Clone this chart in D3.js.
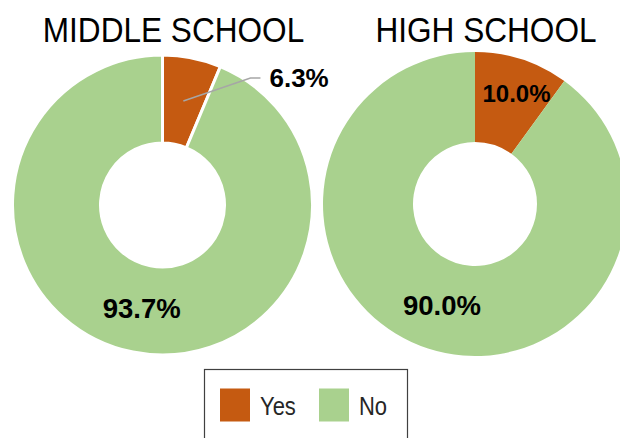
<!DOCTYPE html>
<html>
<head>
<meta charset="utf-8">
<script src="https://cdn.jsdelivr.net/npm/d3@7"></script>
<style>
  html, body { margin: 0; padding: 0; background: #fff; }
  svg { display: block; font-family: "Liberation Sans", Arial, sans-serif; }
</style>
</head>
<body>
<svg id="chart" width="620" height="438"></svg>
<script>
const categories = ["Yes", "No"];
const schools = ["MIDDLE SCHOOL", "HIGH SCHOOL"];
const middleValues = [6.3, 93.7];
const highValues = [10.0, 90.0];
const colors = ["#C55A11", "#A9D18E"];

const svg = d3.select("#chart");
const color = d3.scaleOrdinal().domain(categories).range(colors);
const pie = d3.pie().sort(null).value(d => d.value);

const charts = [
  { title: schools[0], values: middleValues, cx: 162.5, cy: 205, r: 150, ri: 62, stroke: 3,
    titleX: 173.5, titleY: 42, titleSize: 31.6,
    labels: [
      { type: "outside", size: 26 },
      { type: "inside", r: 106, size: 27.5 }
    ] },
  { title: schools[1], values: highValues, cx: 475, cy: 204, r: 152, ri: 62, stroke: 0,
    titleX: 486, titleY: 41.7, titleSize: 31.6,
    labels: [
      { type: "inside", r: 118, size: 24, angOffset: 2.6 },
      { type: "inside", r: 107, size: 27.5 }
    ] }
];

charts.forEach(c => {
  const data = categories.map((k, i) => ({ key: k, value: c.values[i] }));
  const arcs = pie(data);
  const arc = d3.arc().innerRadius(c.ri).outerRadius(c.r);
  const g = svg.append("g").attr("transform", `translate(${c.cx},${c.cy})`);

  g.selectAll("path").data(arcs).join("path")
    .attr("d", arc)
    .attr("fill", d => color(d.data.key))
    .attr("stroke", c.stroke ? "#fff" : "none")
    .attr("stroke-width", c.stroke);

  arcs.forEach((a, i) => {
    const L = c.labels[i];
    const mid = (a.startAngle + a.endAngle) / 2 + (L.angOffset || 0) * Math.PI / 180;
    const txt = d3.format(".1f")(a.data.value) + "%";
    if (L.type === "inside") {
      const x = Math.sin(mid) * L.r, y = -Math.cos(mid) * L.r;
      g.append("text")
        .attr("x", x).attr("y", y)
        .attr("text-anchor", "middle")
        .attr("dominant-baseline", "central")
        .attr("font-size", L.size)
        .attr("font-weight", "bold")
        .attr("fill", "#000")
        .text(txt);
    } else {
      const rc = (c.ri + c.r) / 2;
      const p0 = [Math.sin(mid) * rc, -Math.cos(mid) * rc];
      const ang2 = 34.7 * Math.PI / 180, r2 = 154.5;
      const p1 = [Math.sin(ang2) * r2, -Math.cos(ang2) * r2];
      const p2 = [p1[0] + 10, p1[1]];
      g.append("polyline")
        .attr("points", [p0, p1, p2].map(p => p.join(",")).join(" "))
        .attr("fill", "none")
        .attr("stroke", "#A6A6A6")
        .attr("stroke-width", 1.5);
      g.append("text")
        .attr("x", p2[0] + 9).attr("y", p2[1])
        .attr("text-anchor", "start")
        .attr("dominant-baseline", "central")
        .attr("font-size", L.size)
        .attr("font-weight", "bold")
        .attr("fill", "#000")
        .text(txt);
    }
  });

  svg.append("text")
    .attr("transform", `translate(${c.titleX},${c.titleY}) scale(1,1.12)`)
    .attr("text-anchor", "middle")
    .attr("font-size", c.titleSize)
    .attr("fill", "#000")
    .text(c.title);
});

// Legend
const lg = svg.append("g");
lg.append("rect")
  .attr("x", 204.5).attr("y", 369.5)
  .attr("width", 203).attr("height", 80)
  .attr("fill", "#fff")
  .attr("stroke", "#404040")
  .attr("stroke-width", 1.2);

const legendX = d3.scalePoint().domain(categories).range([220, 319]);
const items = lg.selectAll("g.item").data(categories).join("g").attr("class", "item");
items.append("rect")
  .attr("x", d => legendX(d)).attr("y", 388.5)
  .attr("width", 30).attr("height", 33)
  .attr("fill", d => color(d));
items.append("text")
  .attr("transform", d => `translate(${legendX(d) + 40},415) scale(1,1.15)`)
  .attr("font-size", 22)
  .attr("fill", "#262626")
  .text(d => d);
</script>
</body>
</html>
